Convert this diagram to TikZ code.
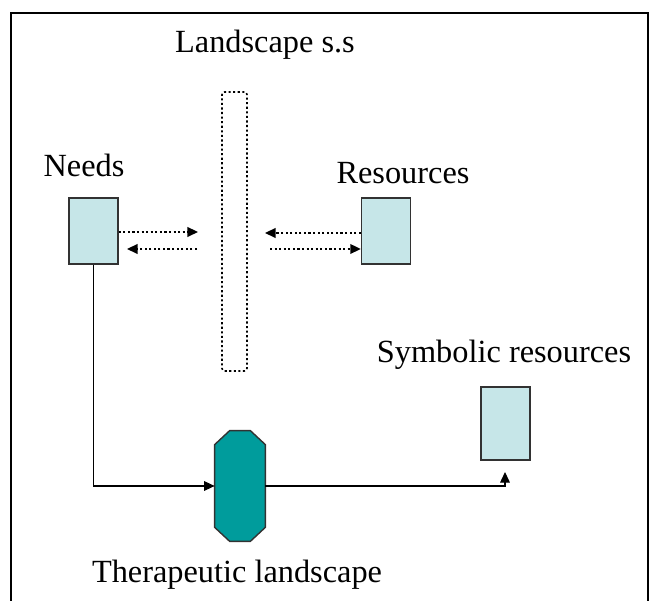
\documentclass[tikz,border=0pt]{standalone}
\usepackage{fontspec}
\setmainfont{Liberation Serif}
\usepackage{xcolor}
\usetikzlibrary{calc,arrows.meta,positioning}

\definecolor{boxfill}{RGB}{198,230,232}
\definecolor{boxline}{RGB}{50,50,50}
\definecolor{tealfill}{RGB}{0,156,156}

\begin{document}
\begin{tikzpicture}[
	%	style def
    every node/.style={color=black, font=\fontsize{18.4}{22}\selectfont},
    res box/.style={draw=boxline, fill=boxfill, line width=0.8pt, minimum width=0.98cm, inner sep=0pt},
    link/.style={line width=0.9pt, dash pattern=on 1.2pt off 1.4pt, -{Triangle[length=6pt,width=5.5pt]}},
    flow/.style={line width=0.6pt},
    flow tip/.style={flow, -{Triangle[length=6pt,width=5.5pt]}}
    ]
	\useasboundingbox (0,0) rectangle (13,12.02);
	% outer frame, open at the bottom
	\draw[line width=1.3pt] (0.22,-0.2) -- (0.22,11.76) -- (12.96,11.76) -- (12.96,-0.2);

	% landscape s.s in the middle
	\node[draw, line width=0.9pt, dash pattern=on 1.2pt off 1.4pt, rounded corners=1.5pt,
	      minimum width=0.5cm, minimum height=5.58cm, inner sep=0pt] (ls) at (4.69,7.39) {};
	\node (lslabel) at (5.30,11.12) {Landscape s.s};

	% needs and resources
	\node[res box, minimum height=1.32cm] (needs) at (1.87,7.40) {};
	\node (needslabel) at (1.68,8.72) {Needs};
	\node[res box, minimum height=1.32cm] (res) at (7.72,7.40) {};
	\node (reslabel) at (8.06,8.56) {Resources};

	% symbolic resources
	\node[res box, minimum height=1.46cm] (sym) at (10.11,3.55) {};
	\node (symlabel) at (10.08,4.92) {Symbolic resources};

	% therapeutic landscape, an octagon over an empty box
	\node[minimum width=1cm, minimum height=2.2cm, inner sep=0pt] (thera) at (4.8,2.3) {};
	\filldraw[draw=boxline, fill=tealfill, line width=0.8pt]
	    ($(thera.north west)+(0.3,0)$) -- ($(thera.north east)+(-0.3,0)$)
	 -- ($(thera.north east)+(0,-0.28)$) -- ($(thera.south east)+(0,0.28)$)
	 -- ($(thera.south east)+(-0.3,0)$) -- ($(thera.south west)+(0.3,0)$)
	 -- ($(thera.south west)+(0,0.28)$) -- ($(thera.north west)+(0,-0.28)$) -- cycle;
	\node (theralabel) at (4.74,0.52) {Therapeutic landscape};

	% free ends of the exchange arrows
	\coordinate (nA) at (3.96,7.38);
	\coordinate (nB) at (3.94,7.04);
	\coordinate (nC) at (2.54,7.04);
	\coordinate (rA) at (5.30,7.36);
	\coordinate (rB) at (5.40,7.04);
	\coordinate (symtip) at (10.10,2.58);

	\draw[link] (needs.east |- nA) -- (nA);
	\draw[link] (nB) -- (nC);
	\draw[link] (res.west |- rA) -- (rA);
	\draw[link] (rB) -- (res.west |- rB);

	% needs -> therapeutic landscape -> symbolic resources
	\draw[flow tip] (needs.south) |- (thera.west);
	\draw[flow tip] (thera.east) -| (symtip);
\end{tikzpicture}
\end{document}
